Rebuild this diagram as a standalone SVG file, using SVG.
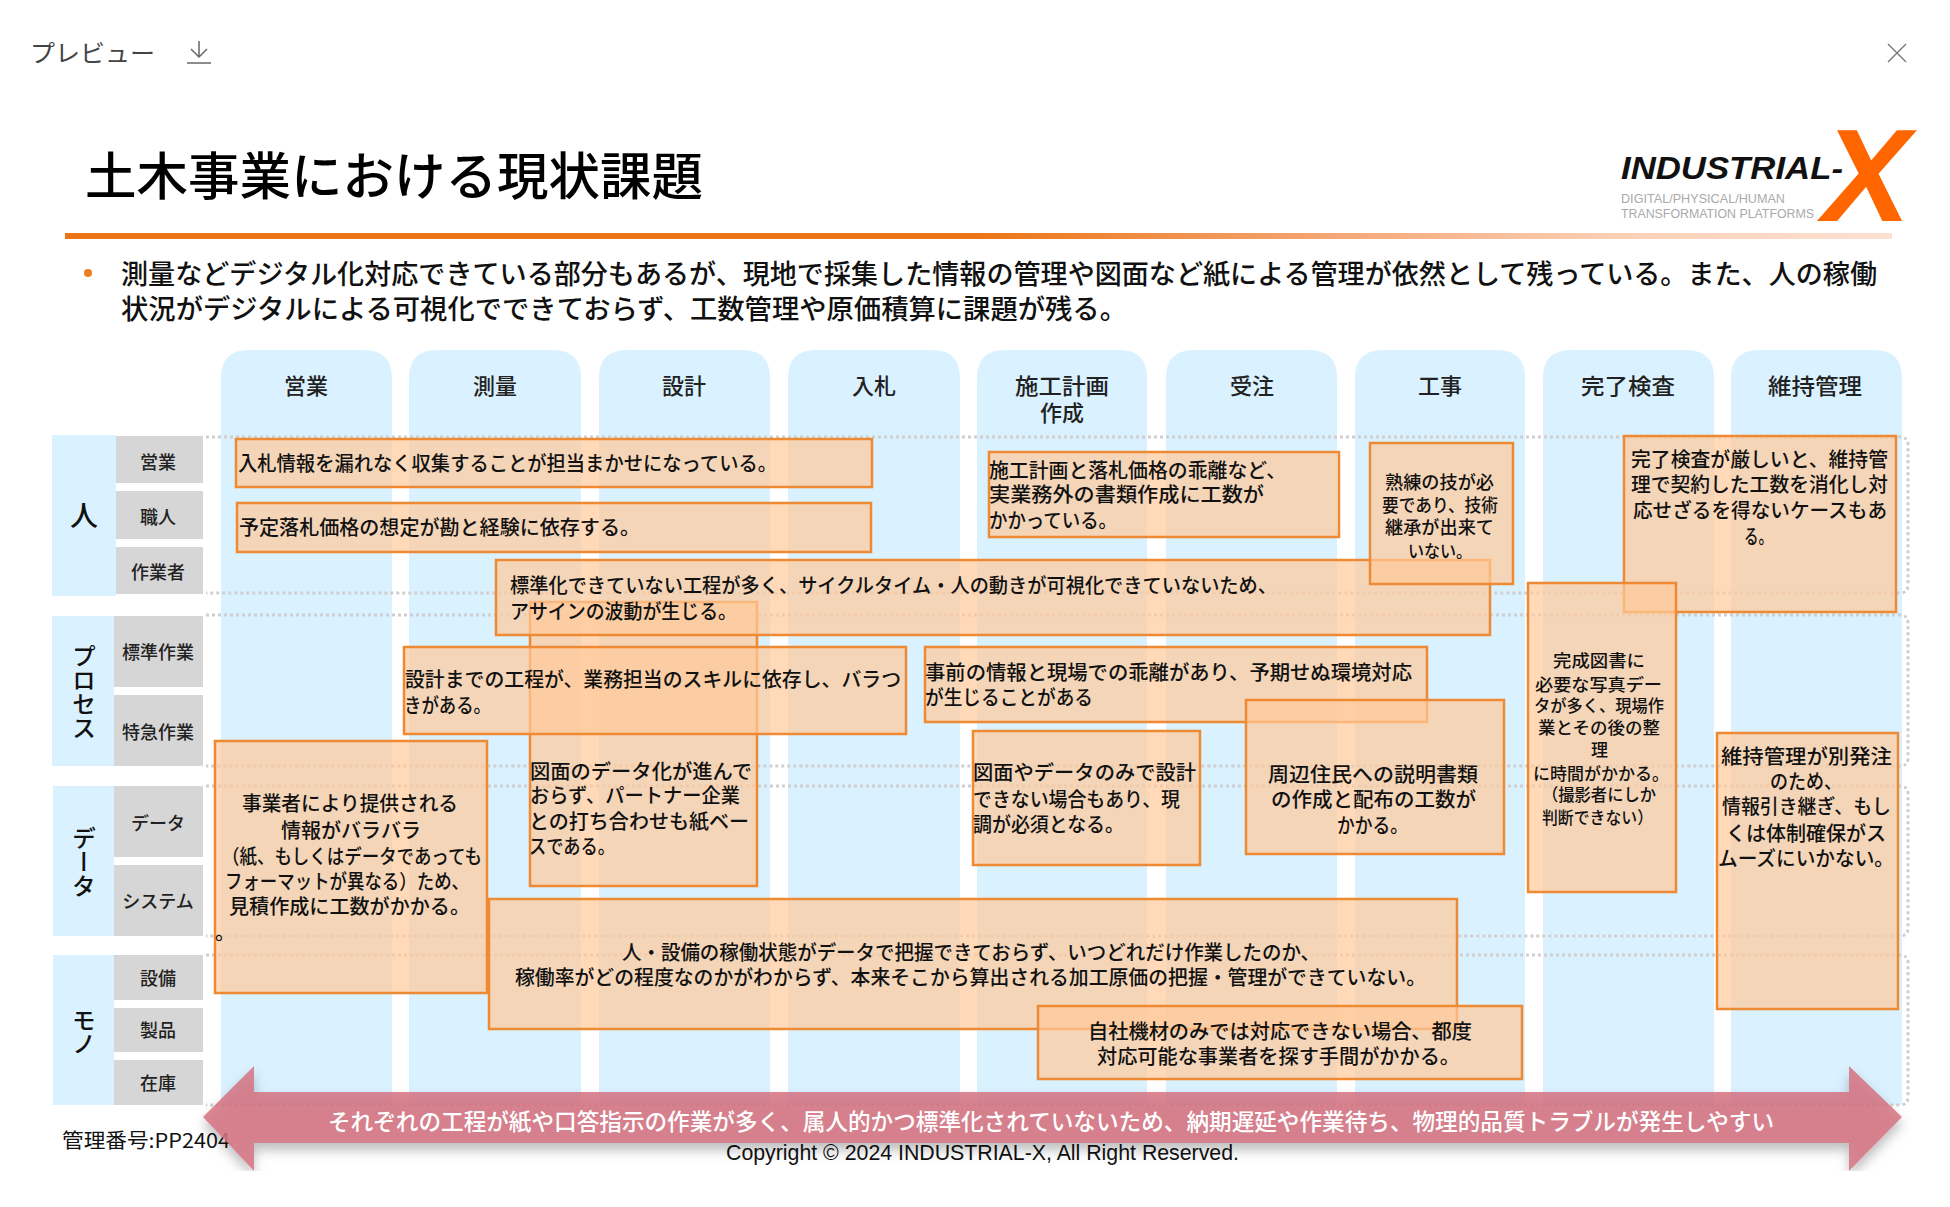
<svg xmlns="http://www.w3.org/2000/svg" width="1950" height="1207" viewBox="0 0 1950 1207">
<defs>
<linearGradient id="rule" x1="0" x2="1" y1="0" y2="0"><stop offset="0" stop-color="#ec7617"/><stop offset="0.5" stop-color="#ec7617"/><stop offset="0.7" stop-color="#f5a878"/><stop offset="0.85" stop-color="#fbd0b5"/><stop offset="1" stop-color="#fde0d2"/></linearGradient>
<filter id="sh" x="-5%" y="-20%" width="110%" height="150%"><feDropShadow dx="0" dy="7" stdDeviation="6" flood-color="#000" flood-opacity="0.3"/></filter>
<clipPath id="arrowclip"><rect x="150" y="1040" width="1800" height="131"/></clipPath>
</defs>
<style>
text{font-family:"Noto Sans CJK JP","Liberation Sans",sans-serif;fill:#111;dominant-baseline:central}
.c{text-anchor:middle}
.col{fill:#daf1ff}
.gray{fill:#d6d6d6}
.dot{fill:none;stroke:#cfcfcf;stroke-width:3;stroke-dasharray:3 3}
.b{fill:#ffc99a;fill-opacity:.7;stroke:#ed8a33;stroke-width:2.5}
.h{font-size:22px;font-weight:500;fill:#222}
.l{font-size:18px;font-weight:500;fill:#222}
.big{font-size:24px;font-weight:500;writing-mode:vertical-rl;text-anchor:middle}
.t{font-size:20px;font-weight:500}
.s{font-size:18px;font-weight:500}
.u{font-size:17px;font-weight:500}
</style>
<rect width="1950" height="1207" fill="#fff"/>

<g id="preview-bar">
<text x="30" y="51" font-size="24" style="font-weight:400;fill:#444" textLength="125" lengthAdjust="spacingAndGlyphs">プレビュー</text>
<path d="M199 41V57M191 49L199 57L207 49" fill="none" stroke="#666" stroke-width="1.5"/>
<path d="M187 63H211" stroke="#666" stroke-width="1.5"/>
<path d="M1888 44L1906 62M1906 44L1888 62" stroke="#777" stroke-width="1.4"/>
</g>

<g id="title">
<text x="85" y="173" font-size="51" style="font-weight:500;fill:#000" textLength="618" lengthAdjust="spacingAndGlyphs">土木事業における現状課題</text>
<rect x="65" y="233" width="1827" height="6" fill="url(#rule)"/>
</g>

<g id="logo">
<text x="1621" y="168" font-size="32" style="font-family:'Liberation Sans',sans-serif;font-weight:700;font-style:italic;fill:#111" textLength="222" lengthAdjust="spacingAndGlyphs">INDUSTRIAL-</text>
<text x="1621" y="199" font-size="12" style="font-family:'Liberation Sans',sans-serif;fill:#aaa" textLength="164" lengthAdjust="spacingAndGlyphs">DIGITAL/PHYSICAL/HUMAN</text>
<text x="1621" y="214" font-size="12" style="font-family:'Liberation Sans',sans-serif;fill:#aaa" textLength="193" lengthAdjust="spacingAndGlyphs">TRANSFORMATION PLATFORMS</text>
<text x="1823" y="175" font-size="131" style="font-family:'Liberation Sans',sans-serif;font-weight:700;font-style:italic;fill:#ff6600">X</text>
</g>

<g id="summary">
<circle cx="88" cy="273" r="4" fill="#ee7d21"/>
<text x="121" y="272" font-size="27" style="font-weight:500" textLength="1756" lengthAdjust="spacingAndGlyphs">測量などデジタル化対応できている部分もあるが、現地で採集した情報の管理や図面など紙による管理が依然として残っている。また、人の稼働</text>
<text x="121" y="307" font-size="27" style="font-weight:500" textLength="1006" lengthAdjust="spacingAndGlyphs">状況がデジタルによる可視化でできておらず、工数管理や原価積算に課題が残る。</text>
</g>

<g id="columns">
<g id="col-eigyo"><path class="col" d="M221 1105V378Q221 350 249 350H364Q392 350 392 378V1105Z"/><text class="h c" x="306" y="384">営業</text></g>
<g id="col-sokuryo"><path class="col" d="M409 1105V378Q409 350 437 350H553Q581 350 581 378V1105Z"/><text class="h c" x="495" y="384">測量</text></g>
<g id="col-sekkei"><path class="col" d="M599 1105V378Q599 350 627 350H742Q770 350 770 378V1105Z"/><text class="h c" x="684" y="384">設計</text></g>
<g id="col-nyusatsu"><path class="col" d="M788 1105V378Q788 350 816 350H932Q960 350 960 378V1105Z"/><text class="h c" x="874" y="384">入札</text></g>
<g id="col-sekou"><path class="col" d="M977 1105V378Q977 350 1005 350H1119Q1147 350 1147 378V1105Z"/><text class="h c" x="1062" y="384" textLength="94" lengthAdjust="spacingAndGlyphs">施工計画</text><text class="h c" x="1062" y="411">作成</text></g>
<g id="col-juchu"><path class="col" d="M1166 1105V378Q1166 350 1194 350H1309Q1337 350 1337 378V1105Z"/><text class="h c" x="1252" y="384">受注</text></g>
<g id="col-koji"><path class="col" d="M1355 1105V378Q1355 350 1383 350H1497Q1525 350 1525 378V1105Z"/><text class="h c" x="1440" y="384">工事</text></g>
<g id="col-kensa"><path class="col" d="M1543 1105V378Q1543 350 1571 350H1686Q1714 350 1714 378V1105Z"/><text class="h c" x="1628" y="384" textLength="94" lengthAdjust="spacingAndGlyphs">完了検査</text></g>
<g id="col-iji"><path class="col" d="M1731 1105V378Q1731 350 1759 350H1874Q1902 350 1902 378V1105Z"/><text class="h c" x="1815" y="384" textLength="94" lengthAdjust="spacingAndGlyphs">維持管理</text></g>
</g>

<g id="row-guides">
<path class="dot" d="M206 437H1900Q1908 437 1908 445V585Q1908 593 1900 593H206"/>
<path class="dot" d="M206 615H1900Q1908 615 1908 623V758Q1908 766 1900 766H206"/>
<path class="dot" d="M206 786H1900Q1908 786 1908 794V928Q1908 936 1900 936H206"/>
<path class="dot" d="M206 955H1900Q1908 955 1908 963V1097Q1908 1105 1900 1105H206"/>
</g>

<g id="row-hito">
<rect class="col" x="52" y="435" width="64" height="161"/>
<text x="84" y="514" class="c" font-size="28" style="font-weight:500">人</text>
<rect class="gray" x="116" y="436" width="87" height="47"/><text class="l c" x="158" y="460.5">営業</text>
<rect class="gray" x="116" y="491" width="87" height="48"/><text class="l c" x="158" y="515.5">職人</text>
<rect class="gray" x="116" y="547" width="87" height="47"/><text class="l c" x="158" y="570.5">作業者</text>
</g>
<g id="row-process">
<rect class="col" x="52" y="616" width="62" height="150"/>
<text class="big" x="84" y="692">プロセス</text>
<rect class="gray" x="114" y="616" width="89" height="71"/><text class="l c" x="158" y="651">標準作業</text>
<rect class="gray" x="114" y="695" width="89" height="71"/><text class="l c" x="158" y="731">特急作業</text>
</g>
<g id="row-data">
<rect class="col" x="53" y="786" width="61" height="150"/>
<text class="big" x="84" y="862">データ</text>
<rect class="gray" x="114" y="786" width="89" height="71"/><text class="l c" x="158" y="822">データ</text>
<rect class="gray" x="114" y="865" width="89" height="71"/><text class="l c" x="158" y="900">システム</text>
</g>
<g id="row-mono">
<rect class="col" x="53" y="955" width="61" height="150"/>
<text class="big" x="84" y="1032">モノ</text>
<rect class="gray" x="114" y="955" width="89" height="45"/><text class="l c" x="158" y="977">設備</text>
<rect class="gray" x="114" y="1008" width="89" height="44"/><text class="l c" x="158" y="1029">製品</text>
<rect class="gray" x="114" y="1060" width="89" height="45"/><text class="l c" x="158" y="1082">在庫</text>
</g>

<g id="box-zumen"><rect class="b" x="530" y="602" width="227" height="284"/><text class="t" x="530" y="770.5" textLength="222" lengthAdjust="spacingAndGlyphs">図面のデータ化が進んで</text><text class="t" x="530" y="794.5" textLength="210" lengthAdjust="spacingAndGlyphs">おらず、パートナー企業</text><text class="t" x="529" y="820.5" textLength="220" lengthAdjust="spacingAndGlyphs">との打ち合わせも紙ベー</text><text class="t" x="529" y="845.5" textLength="86" lengthAdjust="spacingAndGlyphs">スである。</text></g>
<g id="box-nyusatsu-info"><rect class="b" x="236" y="439" width="636" height="48"/><text class="t" x="238" y="462.5" textLength="539" lengthAdjust="spacingAndGlyphs">入札情報を漏れなく収集することが担当まかせになっている。</text></g>
<g id="box-yotei"><rect class="b" x="237" y="503" width="634" height="49"/><text class="t" x="239" y="526.5" textLength="401" lengthAdjust="spacingAndGlyphs">予定落札価格の想定が勘と経験に依存する。</text></g>
<g id="box-hyojun"><rect class="b" x="496" y="560" width="994" height="75"/><text class="t" x="510" y="584.5" textLength="767" lengthAdjust="spacingAndGlyphs">標準化できていない工程が多く、サイクルタイム・人の動きが可視化できていないため、</text><text class="t" x="510" y="610.5" textLength="227" lengthAdjust="spacingAndGlyphs">アサインの波動が生じる。</text></g>
<g id="box-skill"><rect class="b" x="404" y="647" width="502" height="87"/><text class="t" x="405" y="678.5" textLength="496" lengthAdjust="spacingAndGlyphs">設計までの工程が、業務担当のスキルに依存し、バラつ</text><text class="t" x="404" y="704.5" textLength="87" lengthAdjust="spacingAndGlyphs">きがある。</text></g>
<g id="box-jigyosha"><rect class="b" x="215" y="741" width="272" height="252"/><text class="t" x="242" y="802.5" textLength="216" lengthAdjust="spacingAndGlyphs">事業者により提供される</text><text class="t" x="281" y="829.5" textLength="140" lengthAdjust="spacingAndGlyphs">情報がバラバラ</text><text class="t" x="222" y="855.5" textLength="260" lengthAdjust="spacingAndGlyphs">（紙、もしくはデータであっても</text><text class="t" x="225" y="880.5" textLength="244" lengthAdjust="spacingAndGlyphs">フォーマットが異なる）ため、</text><text class="t" x="229" y="905.5" textLength="241" lengthAdjust="spacingAndGlyphs">見積作成に工数がかかる。</text><text class="t" x="215" y="931">。</text></g>
<g id="box-kado"><rect class="b" x="489" y="899" width="968" height="130"/><text class="t" x="622" y="951.5" textLength="698" lengthAdjust="spacingAndGlyphs">人・設備の稼働状態がデータで把握できておらず、いつどれだけ作業したのか、</text><text class="t" x="515" y="976.5" textLength="911" lengthAdjust="spacingAndGlyphs">稼働率がどの程度なのかがわからず、本来そこから算出される加工原価の把握・管理ができていない。</text></g>
<g id="box-kizai"><rect class="b" x="1038" y="1006" width="484" height="73"/><text class="t" x="1088" y="1030.5" textLength="384" lengthAdjust="spacingAndGlyphs">自社機材のみでは対応できない場合、都度</text><text class="t" x="1097" y="1055.5" textLength="363" lengthAdjust="spacingAndGlyphs">対応可能な事業者を探す手間がかかる。</text></g>
<g id="box-sekou"><rect class="b" x="989" y="452" width="350" height="85"/><text class="t" x="989" y="469.5" textLength="297" lengthAdjust="spacingAndGlyphs">施工計画と落札価格の乖離など、</text><text class="t" x="989" y="493.5" textLength="275" lengthAdjust="spacingAndGlyphs">実業務外の書類作成に工数が</text><text class="t" x="989" y="519.5" textLength="128" lengthAdjust="spacingAndGlyphs">かかっている。</text></g>
<g id="box-jukuren"><rect class="b" x="1370" y="443" width="143" height="141"/><text class="s" x="1385" y="480.5" textLength="109" lengthAdjust="spacingAndGlyphs">熟練の技が必</text><text class="s" x="1382" y="503.5" textLength="116" lengthAdjust="spacingAndGlyphs">要であり、技術</text><text class="s" x="1385" y="525.5" textLength="109" lengthAdjust="spacingAndGlyphs">継承が出来て</text><text class="s" x="1408" y="549.5" textLength="64" lengthAdjust="spacingAndGlyphs">いない。</text></g>
<g id="box-kensa"><rect class="b" x="1624" y="436" width="272" height="176"/><text class="t" x="1631" y="458.5" textLength="257" lengthAdjust="spacingAndGlyphs">完了検査が厳しいと、維持管</text><text class="t" x="1631" y="483.5" textLength="257" lengthAdjust="spacingAndGlyphs">理で契約した工数を消化し対</text><text class="t" x="1633" y="509.5" textLength="254" lengthAdjust="spacingAndGlyphs">応せざるを得ないケースもあ</text><text class="t" x="1744" y="535.5" textLength="29" lengthAdjust="spacingAndGlyphs">る。</text></g>
<g id="box-kansei"><rect class="b" x="1528" y="583" width="148" height="309"/><text class="u" x="1553" y="659.5" textLength="92" lengthAdjust="spacingAndGlyphs">完成図書に</text><text class="u" x="1535" y="683.5" textLength="127" lengthAdjust="spacingAndGlyphs">必要な写真デー</text><text class="u" x="1534" y="704.5" textLength="130" lengthAdjust="spacingAndGlyphs">タが多く、現場作</text><text class="u" x="1538" y="726.5" textLength="122" lengthAdjust="spacingAndGlyphs">業とその後の整</text><text class="u" x="1591" y="748.5" textLength="17" lengthAdjust="spacingAndGlyphs">理</text><text class="u" x="1533" y="772.5" textLength="136" lengthAdjust="spacingAndGlyphs">に時間がかかる。</text><text class="u" x="1542" y="793.5" textLength="114" lengthAdjust="spacingAndGlyphs">（撮影者にしか</text><text class="u" x="1542" y="816.5" textLength="111" lengthAdjust="spacingAndGlyphs">判断できない）</text></g>
<g id="box-jizen"><rect class="b" x="925" y="647" width="502" height="75"/><text class="t" x="925" y="671.5" textLength="487" lengthAdjust="spacingAndGlyphs">事前の情報と現場での乖離があり、予期せぬ環境対応</text><text class="t" x="925" y="696.5" textLength="168" lengthAdjust="spacingAndGlyphs">が生じることがある</text></g>
<g id="box-shuhen"><rect class="b" x="1246" y="700" width="258" height="154"/><text class="t" x="1268" y="773.5" textLength="210" lengthAdjust="spacingAndGlyphs">周辺住民への説明書類</text><text class="t" x="1271" y="798.5" textLength="205" lengthAdjust="spacingAndGlyphs">の作成と配布の工数が</text><text class="t" x="1337" y="824.5" textLength="71" lengthAdjust="spacingAndGlyphs">かかる。</text></g>
<g id="box-genchi"><rect class="b" x="973" y="731" width="227" height="134"/><text class="t" x="973" y="771.5" textLength="223" lengthAdjust="spacingAndGlyphs">図面やデータのみで設計</text><text class="t" x="973" y="798.5" textLength="207" lengthAdjust="spacingAndGlyphs">できない場合もあり、現</text><text class="t" x="973" y="823.5" textLength="151" lengthAdjust="spacingAndGlyphs">調が必須となる。</text></g>
<g id="box-iji"><rect class="b" x="1717" y="733" width="181" height="276"/><text class="t" x="1721" y="755.5" textLength="171" lengthAdjust="spacingAndGlyphs">維持管理が別発注</text><text class="t" x="1770" y="780.5" textLength="72" lengthAdjust="spacingAndGlyphs">のため、</text><text class="t" x="1722" y="805.5" textLength="169" lengthAdjust="spacingAndGlyphs">情報引き継ぎ、もし</text><text class="t" x="1726" y="832.5" textLength="160" lengthAdjust="spacingAndGlyphs">くは体制確保がス</text><text class="t" x="1718" y="857.5" textLength="176" lengthAdjust="spacingAndGlyphs">ムーズにいかない。</text></g>

<g id="footer">
<text x="62" y="1139" font-size="20" textLength="168" lengthAdjust="spacingAndGlyphs">管理番号:PP2404</text>
<text x="726" y="1152" font-size="22" style="font-family:'Liberation Sans',sans-serif" textLength="513" lengthAdjust="spacingAndGlyphs">Copyright © 2024 INDUSTRIAL-X, All Right Reserved.</text>
</g>

<g id="connectors">
<g clip-path="url(#arrowclip)">
<path d="M203 1117L254 1066V1092H1849V1066L1902 1117L1849 1171V1143H254V1171Z" fill="#d57381" fill-opacity=".85" filter="url(#sh)"/>
</g>
<text x="328" y="1120" font-size="23" style="fill:#fff;font-weight:500" textLength="1446" lengthAdjust="spacingAndGlyphs">それぞれの工程が紙や口答指示の作業が多く、属人的かつ標準化されていないため、納期遅延や作業待ち、物理的品質トラブルが発生しやすい</text>
</g>
</svg>
